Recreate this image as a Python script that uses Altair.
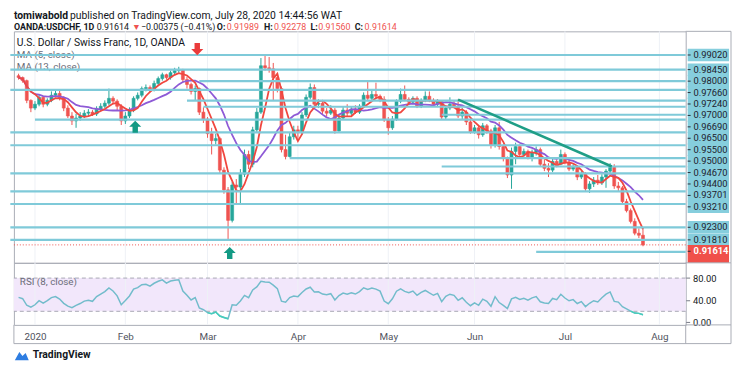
import altair as alt
import pandas as pd
import numpy as np

# ---------------- data ----------------
first_open = 0.9821
closes = [
    0.9814, 0.9802, 0.9725, 0.9695,
    0.9710, 0.9737, 0.9710, 0.9725, 0.9745, 0.9752, 0.9733, 0.9695, 0.9664, 0.9645,
    0.9656, 0.9664, 0.9675, 0.9679, 0.9672, 0.9691, 0.9702, 0.9714, 0.9733, 0.9722,
    0.9702, 0.9645,
    0.9664, 0.9687, 0.9733, 0.9745, 0.9771, 0.9775, 0.9768, 0.9791, 0.9810, 0.9825,
    0.9814, 0.9833, 0.9841, 0.9844, 0.9806, 0.9787, 0.9760, 0.9771, 0.9679, 0.9652,
    0.9595, 0.9568, 0.9576, 0.9453, 0.9376, 0.9257, 0.9395, 0.9387, 0.9437, 0.9514,
    0.9476, 0.9610, 0.9679, 0.9860, 0.9852, 0.9848, 0.9814, 0.9771, 0.9533, 0.9506,
    0.9583, 0.9610,
    0.9599, 0.9668, 0.9737, 0.9775, 0.9710, 0.9714, 0.9683, 0.9675, 0.9687, 0.9606,
    0.9656, 0.9687, 0.9675, 0.9691, 0.9679, 0.9702, 0.9745, 0.9733, 0.9748, 0.9741,
    0.9729, 0.9649,
    0.9618, 0.9652, 0.9722, 0.9748, 0.9729, 0.9718, 0.9733, 0.9702, 0.9725, 0.9741,
    0.9725, 0.9710, 0.9722, 0.9660, 0.9695, 0.9710, 0.9702, 0.9664, 0.9679, 0.9641,
    0.9602,
    0.9618, 0.9591, 0.9626, 0.9606, 0.9549, 0.9618, 0.9545, 0.9499, 0.9434, 0.9526,
    0.9545, 0.9514, 0.9526, 0.9503, 0.9522, 0.9533, 0.9476, 0.9460, 0.9453, 0.9487,
    0.9476, 0.9514,
    0.9483, 0.9457, 0.9464, 0.9426, 0.9437, 0.9380, 0.9399, 0.9414, 0.9403, 0.9426,
    0.9449, 0.9464, 0.9391, 0.9384, 0.9330, 0.9295, 0.9253, 0.9207, 0.9199, 0.91614,
]
highs = [
    0.9829, 0.9818, 0.9806, 0.9729,
    0.9722, 0.9748, 0.9741, 0.9733, 0.9760, 0.9768, 0.9764, 0.9741, 0.9706, 0.9679,
    0.9672, 0.9679, 0.9687, 0.9691, 0.9687, 0.9702, 0.9714, 0.9725, 0.9771, 0.9741,
    0.9729, 0.9710,
    0.9679, 0.9698, 0.9741, 0.9756, 0.9779, 0.9787, 0.9783, 0.9802, 0.9818, 0.9833,
    0.9829, 0.9841, 0.9852, 0.9856, 0.9848, 0.9818, 0.9794, 0.9783, 0.9775, 0.9698,
    0.9660, 0.9618, 0.9595, 0.9583, 0.9464, 0.9387, 0.9407, 0.9418, 0.9457, 0.9533,
    0.9529, 0.9622, 0.9695, 0.9890, 0.9902, 0.9894, 0.9871, 0.9829, 0.9779, 0.9591,
    0.9599, 0.9626,
    0.9626, 0.9679, 0.9748, 0.9791, 0.9787, 0.9729, 0.9725, 0.9695, 0.9706, 0.9695,
    0.9668, 0.9702, 0.9710, 0.9702, 0.9706, 0.9710, 0.9756, 0.9802, 0.9764, 0.9794,
    0.9748, 0.9741,
    0.9660, 0.9664, 0.9729, 0.9771, 0.9783, 0.9737, 0.9741, 0.9741, 0.9733, 0.9760,
    0.9760, 0.9733, 0.9729, 0.9725, 0.9702, 0.9737, 0.9725, 0.9729, 0.9695, 0.9687,
    0.9649,
    0.9629, 0.9626, 0.9637, 0.9633, 0.9614, 0.9629, 0.9641, 0.9553, 0.9506, 0.9541,
    0.9560, 0.9553, 0.9537, 0.9533, 0.9533, 0.9545, 0.9541, 0.9495, 0.9480, 0.9499,
    0.9495, 0.9533,
    0.9522, 0.9491, 0.9476, 0.9472, 0.9449, 0.9445, 0.9410, 0.9426, 0.9434, 0.9437,
    0.9457, 0.9480, 0.9476, 0.9407, 0.9391, 0.9341, 0.9303, 0.9265, 0.9226, 0.92278,
]
lows = [
    0.9806, 0.9794, 0.9714, 0.9679,
    0.9687, 0.9702, 0.9698, 0.9702, 0.9718, 0.9737, 0.9725, 0.9683, 0.9656, 0.9629,
    0.9618, 0.9645, 0.9656, 0.9664, 0.9664, 0.9664, 0.9683, 0.9695, 0.9706, 0.9710,
    0.9687, 0.9629,
    0.9633, 0.9656, 0.9679, 0.9725, 0.9737, 0.9760, 0.9756, 0.9760, 0.9783, 0.9802,
    0.9806, 0.9806, 0.9825, 0.9833, 0.9794, 0.9771, 0.9748, 0.9725, 0.9668, 0.9637,
    0.9579, 0.9514, 0.9553, 0.9441, 0.9361, 0.9180, 0.9249, 0.9322, 0.9322, 0.9426,
    0.9457, 0.9464, 0.9599, 0.9672, 0.9841, 0.9833, 0.9725, 0.9756, 0.9522, 0.9495,
    0.9503, 0.9572,
    0.9572, 0.9591, 0.9660, 0.9729, 0.9698, 0.9695, 0.9672, 0.9664, 0.9668, 0.9595,
    0.9599, 0.9649, 0.9664, 0.9668, 0.9672, 0.9672, 0.9695, 0.9722, 0.9725, 0.9733,
    0.9718, 0.9641,
    0.9591, 0.9610, 0.9645, 0.9714, 0.9722, 0.9706, 0.9710, 0.9695, 0.9695, 0.9718,
    0.9718, 0.9702, 0.9702, 0.9649, 0.9649, 0.9687, 0.9695, 0.9656, 0.9652, 0.9629,
    0.9595,
    0.9595, 0.9576, 0.9583, 0.9595, 0.9537, 0.9541, 0.9533, 0.9487, 0.9422, 0.9380,
    0.9476, 0.9503, 0.9506, 0.9495, 0.9487, 0.9510, 0.9468, 0.9449, 0.9426, 0.9445,
    0.9464, 0.9472,
    0.9476, 0.9449, 0.9449, 0.9414, 0.9418, 0.9372, 0.9364, 0.9387, 0.9395, 0.9395,
    0.9384, 0.9437, 0.9380, 0.9368, 0.9322, 0.9288, 0.9245, 0.9199, 0.9188, 0.91560,
]

# horizontal levels drawn on the chart (price, first bar index of the line)
level_prices = [0.99020, 0.98450, 0.98000, 0.97660, 0.97240, 0.97000, 0.96690, 0.96500,
                0.96000, 0.95500, 0.95000, 0.94670, 0.94400, 0.93701, 0.93210, 0.92300,
                0.91810, 0.91340]
level_start = [-2, -2, 44, -2, 41, 45, 103, 4, -2, -2, 66, 103, -2, -2, -2, -2, -2, 126]
# price-scale labels shown at the right
label_prices = [0.99020, 0.98450, 0.98000, 0.97660, 0.97240, 0.97000, 0.96690, 0.96500,
                0.95500, 0.95000, 0.94670, 0.94400, 0.93701, 0.93210, 0.92300, 0.91810]
# trend line (bar index, price)
trend_i = [107, 144.4]
trend_p = [0.9728, 0.9467]
# signal arrows (bar index, price, kind)
arrow_i = [43.5, 28.4, 51.4]
arrow_p = [0.9925, 0.9622, 0.9130]
arrow_kind = ["down", "up", "up"]

month_names = ["2020", "Feb", "Mar", "Apr", "May", "Jun", "Jul", "Aug"]

# ---------------- build tables ----------------
cal = pd.bdate_range("2019-12-26", "2020-08-14")
cal = cal[cal != pd.Timestamp("2020-01-01")]
n = len(closes)
df = pd.DataFrame({"i": np.arange(n), "date": cal[:n].strftime("%Y-%m-%d"),
                   "close": closes, "high": highs, "low": lows})
df["open"] = [first_open] + closes[:-1]
df["dir"] = np.where(df["close"] >= df["open"], "up", "down")
df["x0"] = df["i"] - 0.36
df["x1"] = df["i"] + 0.36
df["ma5"] = df["close"].rolling(5, min_periods=1).mean()
df["ma13"] = df["close"].rolling(13, min_periods=1).mean()

# RSI(8), Wilder smoothing, seeded with the average move before the window
ag, al = 0.0014, 0.0017
rsi = [100 - 100 / (1 + ag / al)]
for d in np.diff(closes):
    ag = (ag * 7 + max(d, 0)) / 8
    al = (al * 7 + max(-d, 0)) / 8
    rsi.append(100 - 100 / (1 + ag / al))
df["rsi"] = rsi
df["rsi_low"] = [r if r <= 21 else None for r in rsi]

cal_s = pd.Series(np.arange(len(cal)), index=cal)
month_idx = [int(cal_s[cal_s.index.month == m].iloc[0]) for m in range(1, 9)]
months = pd.DataFrame({"i": month_idx, "name": month_names})

# ---------------- geometry ----------------
W, H, HR, HD = 682, 235, 63, 19
XMIN, XMAX = -1.13, 162.4
PMIN, PMAX = 0.90914, 0.99942
RMIN, RMAX = -4.5, 107.5
ppu = H / (PMAX - PMIN)


def ypx(p):
    return (PMAX - p) * ppu


def pval(y):
    return PMAX - y / ppu


GREEN, RED = "#26a69a", "#ef5350"
CYAN, CYANBOX = "#7fcad9", "#86cedd"
FRAME = "#a9acb5"
TXT = "#131722"

xs = alt.Scale(domain=[XMIN, XMAX], nice=False, zero=False)
ys = alt.Scale(domain=[PMIN, PMAX], nice=False, zero=False)
rs = alt.Scale(domain=[RMIN, RMAX], nice=False, zero=False)
dir_scale = alt.Scale(domain=["up", "down"], range=[GREEN, RED])


def X(f):
    return alt.X(f, scale=xs, axis=None)


def Y(f):
    return alt.Y(f, scale=ys, axis=None)


one = pd.DataFrame({"a": [0]})

# price-scale labels, pushed apart when they collide
last = closes[-1]
rows = []
prev = -99
for p in sorted(label_prices + [last], reverse=True):
    c = max(ypx(p), prev + 11.6)
    prev = c
    cur = p == last
    rows.append({"label": f"{p:.5f}", "pc": pval(c), "ptop": pval(c - 6.3),
                 "pbot": PMIN if cur else pval(c + 6.3), "kind": "cur" if cur else "lvl"})
labs = pd.DataFrame(rows)

levels = pd.DataFrame({"p": level_prices, "start": level_start})
levels["end"] = XMAX
trend = pd.DataFrame({"i": trend_i, "p": trend_p})
arrows = pd.DataFrame({"i": arrow_i, "p": arrow_p, "kind": arrow_kind})

# ---------------- main pane ----------------
grid = alt.Chart(months).mark_rule(color="#eef1f6", strokeWidth=1).encode(x=X("i:Q"))

# header (page x - 8, y relative to the top of the price pane)
L1, L2 = -15.5, -4.5
header = pd.DataFrame([
    ("tomiwabold", 0, L1, TXT, "bold", 10.5),
    ("published on TradingView.com, July 28, 2020 14:44:56 WAT", 57, L1, TXT, "normal", 10.5),
    ("OANDA:USDCHF, 1D", 0, L2, TXT, "bold", 9),
    ("0.91614", 84, L2, TXT, "normal", 9),
    ("▼", 120, L2, RED, "normal", 9),
    ("−0.00375 (−0.41%)", 129, L2, TXT, "normal", 9),
    ("O:", 206, L2, TXT, "bold", 9),
    ("0.91989", 216, L2, RED, "normal", 9),
    ("H:", 254, L2, TXT, "bold", 9),
    ("0.92278", 264, L2, RED, "normal", 9),
    ("L:", 301, L2, TXT, "bold", 9),
    ("0.91560", 309, L2, RED, "normal", 9),
    ("C:", 346, L2, TXT, "bold", 9),
    ("0.91614", 356, L2, RED, "normal", 9),
], columns=["t", "px", "py", "col", "w", "fs"])


def head_layer(weight):
    d = header[header.w == weight]
    return alt.Chart(d).mark_text(align="left", baseline="middle", fontWeight=weight).encode(
        x=alt.X("px:Q", scale=None), y=alt.Y("py:Q", scale=None), text="t:N",
        color=alt.Color("col:N", scale=None), size=alt.Size("fs:Q", scale=None))


head_n = head_layer("normal")
head_b = head_layer("bold")

legend = pd.DataFrame([
    ("U.S. Dollar / Swiss Franc, 1D, OANDA", 12, TXT, 10.5),
    ("MA (5, close)", 24, "#6a6d78", 10),
    ("MA (13, close)", 36, "#6a6d78", 10),
], columns=["t", "py", "col", "fs"])
leg = alt.Chart(legend).mark_text(align="left", baseline="middle").encode(
    x=alt.value(3), y=alt.Y("py:Q", scale=None), text="t:N",
    color=alt.Color("col:N", scale=None), size=alt.Size("fs:Q", scale=None))

wicks = alt.Chart(df).mark_rule(strokeWidth=1).encode(
    x=X("i:Q"), y=Y("low:Q"), y2="high:Q",
    color=alt.Color("dir:N", scale=dir_scale, legend=None))
bodies = alt.Chart(df).mark_rect(strokeWidth=0.6).encode(
    x=X("x0:Q"), x2="x1:Q", y=Y("open:Q"), y2="close:Q",
    color=alt.Color("dir:N", scale=dir_scale, legend=None),
    stroke=alt.Stroke("dir:N", scale=dir_scale, legend=None))
ma13 = alt.Chart(df).mark_line(color="#8e5ad6", strokeWidth=1.8).encode(x=X("i:Q"), y=Y("ma13:Q"))
ma5 = alt.Chart(df).mark_line(color="#f0473f", strokeWidth=1.8).encode(x=X("i:Q"), y=Y("ma5:Q"))

lvl = alt.Chart(levels).mark_rule(color=CYAN, strokeWidth=2.2).encode(
    x=X("start:Q"), x2="end:Q", y=Y("p:Q"))
curline = alt.Chart(pd.DataFrame({"p": [last]})).mark_rule(
    color=RED, strokeWidth=1, strokeDash=[1, 2]).encode(y=Y("p:Q"))
tl = alt.Chart(trend).mark_line(color="#1f9e86", strokeWidth=2.6).encode(x=X("i:Q"), y=Y("p:Q"))

DOWN = "M-0.45,-1 L0.45,-1 L0.45,0 L1,0 L0,1 L-1,0 L-0.45,0 Z"
UP = "M-0.45,1 L0.45,1 L0.45,0 L1,0 L0,-1 L-1,0 L-0.45,0 Z"
arr_d = alt.Chart(arrows[arrows.kind == "down"]).mark_point(
    shape=DOWN, filled=True, opacity=1, size=150, color="#ea3b3b").encode(x=X("i:Q"), y=Y("p:Q"))
arr_u = alt.Chart(arrows[arrows.kind == "up"]).mark_point(
    shape=UP, filled=True, opacity=1, size=150, color="#139a84").encode(x=X("i:Q"), y=Y("p:Q"))

box_l = alt.Chart(labs[labs.kind == "lvl"]).mark_rect(color=CYANBOX).encode(
    x=alt.value(W + 2), x2=alt.value(W + 44), y=Y("ptop:Q"), y2="pbot:Q")
box_c = alt.Chart(labs[labs.kind == "cur"]).mark_rect(color="#f0504a").encode(
    x=alt.value(W + 2), x2=alt.value(W + 44), y=Y("ptop:Q"), y2="pbot:Q")
tick_l = alt.Chart(labs).mark_rule(color="#2a2e39", strokeWidth=1).encode(
    x=alt.value(W + 2), x2=alt.value(W + 5), y=Y("pc:Q"))
txt_l = alt.Chart(labs[labs.kind == "lvl"]).mark_text(
    align="left", baseline="middle", fontSize=9.5, color="#1e222d").encode(
    x=alt.value(W + 8), y=Y("pc:Q"), text="label:N")
txt_c = alt.Chart(labs[labs.kind == "cur"]).mark_text(
    align="left", baseline="middle", fontSize=9.5, color="white", fontWeight="bold").encode(
    x=alt.value(W + 8), y=Y("pc:Q"), text="label:N")

fr1 = alt.Chart(one).mark_rule(color=FRAME).encode(x=alt.value(W + 46), y=alt.value(0), y2=alt.value(H))
fr2 = alt.Chart(one).mark_rule(color=FRAME).encode(x=alt.value(W), x2=alt.value(W + 46), y=alt.value(0))
fr3 = alt.Chart(one).mark_rule(color=FRAME).encode(x=alt.value(W), x2=alt.value(W + 46), y=alt.value(H))

main = alt.layer(grid, head_n, head_b, leg, wicks, bodies, ma13, ma5, lvl, curline, tl,
                 arr_d, arr_u, box_l, box_c, tick_l, txt_l, txt_c, fr1, fr2, fr3
                 ).properties(width=W, height=H)

# ---------------- RSI pane ----------------
lbl_expr = " : ".join(f"datum.value == {i} ? '{nm}'" for i, nm in zip(month_idx, month_names)) + " : ''"
XAX = alt.Axis(values=month_idx, labelExpr=lbl_expr, grid=False, ticks=False, domain=False,
               labelPadding=7, labelFontSize=10, labelColor="#50535e", title=None, labelFlush=False)
YAX = alt.Axis(orient="right", values=[0, 40, 80], format=".2f", tickSize=4, tickColor="#787b86",
               labelColor=TXT, labelFontSize=9.5, labelPadding=3, domain=False, grid=False,
               title=None)

band = alt.Chart(pd.DataFrame({"lo": [20], "hi": [80]})).mark_rect(color="#f2e7fb").encode(
    x=alt.value(0), x2=alt.value(W), y=alt.Y("lo:Q", scale=rs, axis=YAX), y2="hi:Q")
rgrid = alt.Chart(months).mark_rule(color="#eef1f6").encode(
    x=alt.X("i:Q", scale=xs, axis=XAX))
dash = alt.Chart(pd.DataFrame({"v": [20, 80]})).mark_rule(
    color="#a8a8b4", strokeDash=[4, 3], strokeWidth=1).encode(y=alt.Y("v:Q", scale=rs, axis=YAX))
rline = alt.Chart(df).mark_line(color="#72bccb", strokeWidth=1.5).encode(
    x=alt.X("i:Q", scale=xs, axis=XAX), y=alt.Y("rsi:Q", scale=rs, axis=YAX))
rlow = alt.Chart(df).mark_line(color="#46cdbb", strokeWidth=1.5).encode(
    x=alt.X("i:Q", scale=xs, axis=XAX), y=alt.Y("rsi_low:Q", scale=rs, axis=YAX))
rtitle = alt.Chart(one).mark_text(align="left", baseline="middle", fontSize=10, color="#6a6d78").encode(
    x=alt.value(6), y=alt.value(20), text=alt.value("RSI (8, close)"))
f1 = alt.Chart(one).mark_rule(color=FRAME).encode(x=alt.value(W + 46), y=alt.value(0), y2=alt.value(HR + HD))
f2 = alt.Chart(one).mark_rule(color=FRAME).encode(x=alt.value(0), x2=alt.value(W + 46), y=alt.value(HR + HD))
f3 = alt.Chart(one).mark_rule(color=FRAME).encode(x=alt.value(0), y=alt.value(HR), y2=alt.value(HR + HD))
f4 = alt.Chart(one).mark_rule(color=FRAME).encode(x=alt.value(W), y=alt.value(HR), y2=alt.value(HR + HD))
f5 = alt.Chart(one).mark_rule(color=FRAME).encode(x=alt.value(W), x2=alt.value(W + 46), y=alt.value(HR))
logo_icon = alt.Chart(one).mark_point(
    shape="M-1,0.7 L-0.35,-0.5 L0.1,0.1 L0.55,-0.35 L1,0.7 Z", filled=True, opacity=1,
    size=200, color="#2e7de1").encode(x=alt.value(8), y=alt.value(HR + 31))
logo_txt = alt.Chart(one).mark_text(align="left", baseline="middle", fontSize=10.5,
                                     fontWeight="bold", color=TXT).encode(
    x=alt.value(19), y=alt.value(HR + 31), text=alt.value("TradingView"))

rsi_pane = alt.layer(band, rgrid, dash, rline, rlow, rtitle, f1, f2, f3, f4, f5, logo_icon, logo_txt
                     ).properties(width=W, height=HR)

chart = alt.vconcat(main, rsi_pane, spacing=0, bounds="flush").properties(
    padding={"left": 0, "top": 0, "right": 0, "bottom": 0}
).configure(font="Roboto").configure_view(stroke=FRAME, strokeWidth=1)

chart.save("out.html", embed_options={"renderer": "svg", "actions": False})
